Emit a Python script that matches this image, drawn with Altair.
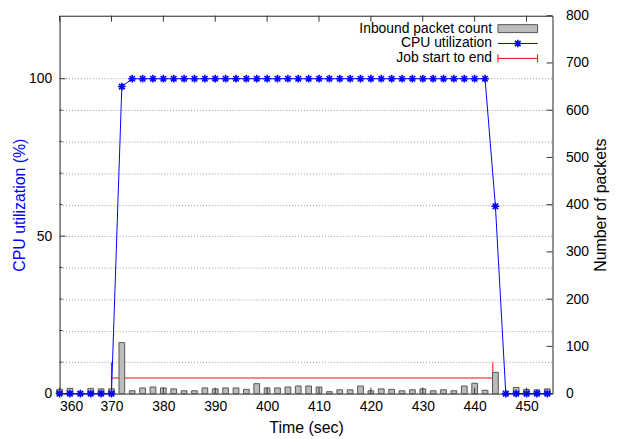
import altair as alt
import pandas as pd

# ---------------- data ----------------
cpu_time = [360, 362, 364, 366, 368, 370, 372, 374, 376, 378, 380, 382, 384, 386, 388, 390,
            392, 394, 396, 398, 400, 402, 404, 406, 408, 410, 412, 414, 416, 418, 420, 422,
            424, 426, 428, 430, 432, 434, 436, 438, 440, 442, 444, 446, 448, 450, 452, 454]
cpu_util = [0, 0, 0, 0, 0, 0, 97.5, 100, 100, 100, 100, 100, 100, 100, 100, 100,
            100, 100, 100, 100, 100, 100, 100, 100, 100, 100, 100, 100, 100, 100, 100, 100,
            100, 100, 100, 100, 100, 100, 100, 100, 100, 100, 59.5, 0, 0, 0, 0, 0]

pkt_time = cpu_time
pkt_count = [9, 11, 0, 11, 10, 10, 108, 6, 12, 14, 12, 10, 6, 6, 12, 10,
             12, 12, 9, 21, 12, 12, 14, 16, 16, 14, 4, 8, 8, 16, 6, 10,
             9, 6, 8, 10, 6, 8, 6, 16, 22, 7, 45, 0, 13, 9, 8, 10]

job_start = 370.0
job_end = 443.5
job_level = 33      # packets axis
job_half = 33       # half height of the end ticks (packets)

x_ticks = [360, 370, 380, 390, 400, 410, 420, 430, 440, 450]
left_ticks = [0, 10, 20, 30, 40, 50, 60, 70, 80, 90, 100]
right_ticks = [0, 100, 200, 300, 400, 500, 600, 700, 800]

W, H = 497, 381
FONT = "Liberation Sans"
BLUE = "#0000ff"
RED = "#ff0000"
STAR = "M-1,0L1,0M0,-1L0,1M-0.72,-0.72L0.72,0.72M-0.72,0.72L0.72,-0.72"

xscale = alt.Scale(domain=[360, 455], nice=False, zero=False)
xaxis = alt.Axis(values=x_ticks, ticks=False, domain=False, grid=False, title="Time (sec)",
                 labelFontSize=14, titleFontSize=16, labelPadding=6, titlePadding=6,
                 labelColor="#000", titleColor="#000", titleFontWeight="normal",
                 labelFont=FONT, titleFont=FONT)

lscale = alt.Scale(domain=[0, 120], nice=False)
rscale = alt.Scale(domain=[0, 800], nice=False)

laxis = alt.Axis(orient="left", values=left_ticks, ticks=False, domain=False,
                 grid=True, gridDash=[1, 2], gridColor="#9a9a9a", gridWidth=1,
                 labelExpr="datum.value % 50 == 0 ? datum.label : ''",
                 title="CPU utilization (%)", titleColor=BLUE, labelFontSize=14,
                 titleFontSize=16, labelPadding=8, titlePadding=1,
                 labelColor="#000", titleFontWeight="normal",
                 labelFont=FONT, titleFont=FONT)
raxis = alt.Axis(orient="right", values=right_ticks, ticks=False, domain=False,
                 grid=False, title="Number of packets", labelFontSize=14,
                 titleFontSize=16, labelPadding=13, titlePadding=4,
                 titleAngle=270, titleBaseline="top",
                 labelColor="#000", titleColor="#000", titleFontWeight="normal",
                 labelFont=FONT, titleFont=FONT)

cpu_df = pd.DataFrame({"t": cpu_time, "cpu": cpu_util})
pkt_df = pd.DataFrame({"t": pkt_time, "p": pkt_count})
pkt_df["t0"] = pkt_df["t"] - 0.55
pkt_df["t1"] = pkt_df["t"] + 0.55

# ---------------- right (packets) layer ----------------
job_df = pd.DataFrame({"a": [job_start], "b": [job_end], "y": [job_level],
                       "lo": [job_level - job_half], "hi": [job_level + job_half]})

job_line = alt.Chart(job_df).mark_rule(color=RED, strokeWidth=1).encode(
    x=alt.X("a:Q", scale=xscale, axis=xaxis), x2="b:Q",
    y=alt.Y("y:Q", scale=rscale, axis=raxis))
job_l = alt.Chart(job_df).mark_rule(color=RED, strokeWidth=1).encode(
    x=alt.X("a:Q", scale=xscale, axis=xaxis), y=alt.Y("lo:Q", scale=rscale, axis=raxis), y2="hi:Q")
job_r = alt.Chart(job_df).mark_rule(color=RED, strokeWidth=1).encode(
    x=alt.X("b:Q", scale=xscale, axis=xaxis), y=alt.Y("lo:Q", scale=rscale, axis=raxis), y2="hi:Q")

bars = alt.Chart(pkt_df).transform_filter("datum.p > 0").mark_rect(
    fill="#bcbcbc", stroke="#555555", strokeWidth=1).encode(
    x=alt.X("t0:Q", scale=xscale, axis=xaxis), x2="t1:Q",
    y=alt.Y("p:Q", scale=rscale, axis=raxis),
    y2=alt.datum(0))

rt_df = pd.DataFrame({"v": right_ticks})
r_ticks = alt.Chart(rt_df).mark_rule(color="#333", strokeWidth=1).encode(
    y=alt.Y("v:Q", scale=rscale, axis=raxis), x=alt.value(W), x2=alt.value(W - 6))

right_layer = alt.layer(job_line, job_l, job_r, bars, r_ticks)

# ---------------- left (CPU) layer ----------------
cpu_line = alt.Chart(cpu_df).mark_line(color=BLUE, strokeWidth=1).encode(
    x=alt.X("t:Q", scale=xscale, axis=xaxis),
    y=alt.Y("cpu:Q", scale=lscale, axis=laxis))
cpu_pts = alt.Chart(cpu_df).mark_point(shape=STAR, size=60, filled=False, color=BLUE,
                                       strokeWidth=1.6, opacity=1).encode(
    x=alt.X("t:Q", scale=xscale, axis=xaxis), y=alt.Y("cpu:Q", scale=lscale, axis=laxis))

lt_df = pd.DataFrame({"v": left_ticks})
lmaj = alt.Chart(lt_df).transform_filter("datum.v % 50 == 0").mark_rule(
    color="#333", strokeWidth=1).encode(
    y=alt.Y("v:Q", scale=lscale, axis=laxis), x=alt.value(0), x2=alt.value(6))
lmin = alt.Chart(lt_df).transform_filter("datum.v % 50 != 0").mark_rule(
    color="#333", strokeWidth=1).encode(
    y=alt.Y("v:Q", scale=lscale, axis=laxis), x=alt.value(0), x2=alt.value(3))

left_layer = alt.layer(cpu_line, cpu_pts, lmaj, lmin)

# ---------------- x ticks (bottom & top) ----------------
xt_df = pd.DataFrame({"v": x_ticks})
xb = alt.Chart(xt_df).mark_rule(color="#333", strokeWidth=1).encode(
    x=alt.X("v:Q", scale=xscale, axis=xaxis), y=alt.value(H), y2=alt.value(H - 6))
xtp = alt.Chart(xt_df).mark_rule(color="#333", strokeWidth=1).encode(
    x=alt.X("v:Q", scale=xscale, axis=xaxis), y=alt.value(0), y2=alt.value(6))

# ---------------- legend ----------------
leg_labels = ["Inbound packet count", "CPU utilization", "Job start to end"]
one = pd.DataFrame({"k": [0]})
LX_TEXT, LX0, LX1 = 436, 442, 482
rows_y = [13, 28, 43]

leg = []
for lab, yy in zip(leg_labels, rows_y):
    leg.append(alt.Chart(pd.DataFrame({"t": [lab]})).mark_text(
        align="right", baseline="middle", fontSize=14, font=FONT, color="#000").encode(
        x=alt.value(LX_TEXT), y=alt.value(yy), text="t:N"))
leg.append(alt.Chart(one).mark_rect(fill="#bcbcbc", stroke="#555555", strokeWidth=1).encode(
    x=alt.value(LX0), x2=alt.value(LX1), y=alt.value(rows_y[0] - 4), y2=alt.value(rows_y[0] + 4)))
leg.append(alt.Chart(one).mark_rule(color=BLUE, strokeWidth=1).encode(
    x=alt.value(LX0), x2=alt.value(LX1), y=alt.value(rows_y[1])))
leg.append(alt.Chart(one).mark_point(shape=STAR, size=60, filled=False, color=BLUE,
                                     strokeWidth=1.6, opacity=1).encode(
    x=alt.value((LX0 + LX1) / 2), y=alt.value(rows_y[1])))
leg.append(alt.Chart(one).mark_rule(color=RED, strokeWidth=1).encode(
    x=alt.value(LX0), x2=alt.value(LX1), y=alt.value(rows_y[2])))
for xx in (LX0, LX1):
    leg.append(alt.Chart(one).mark_rule(color=RED, strokeWidth=1).encode(
        x=alt.value(xx), y=alt.value(rows_y[2] - 4), y2=alt.value(rows_y[2] + 4)))

chart = alt.layer(right_layer, left_layer, xb, xtp, *leg).resolve_scale(
    y="independent").properties(
    width=W, height=H,
    autosize=alt.AutoSizeParams(type="none"),
    padding={"left": 52, "top": 6, "right": 60, "bottom": 46},
    background="white",
).configure_view(stroke="#222", strokeWidth=1)

chart.save("out.html", embed_options={"renderer": "svg", "actions": False})
